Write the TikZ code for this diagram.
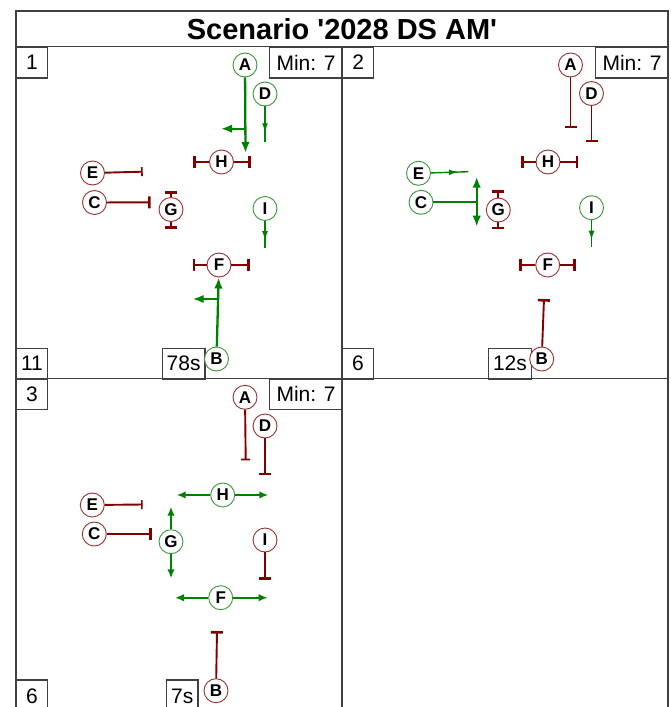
\documentclass[tikz,border=0pt]{standalone}
\usepackage{fontspec}
\setmainfont{Liberation Sans}
\usetikzlibrary{arrows.meta,decorations.markings}
\definecolor{grn}{RGB}{0,128,0}
\definecolor{grnc}{RGB}{60,150,60}
\definecolor{rd}{RGB}{128,0,0}
\definecolor{rdc}{RGB}{150,50,50}
\definecolor{frm}{RGB}{64,64,64}
\tikzset{
  gnode/.style={circle,draw=grnc,fill=white,line width=0.9pt,minimum size=24pt,inner sep=0pt,font=\fontsize{17}{17}\selectfont\bfseries},
  rnode/.style={circle,draw=rdc,fill=white,line width=0.9pt,minimum size=24pt,inner sep=0pt,font=\fontsize{17}{17}\selectfont\bfseries},
  gthick/.style={draw=grn,line width=2.3pt,-{Latex[length=11pt,width=8.5pt]}},
  gdbl/.style={draw=grn,line width=1.9pt,-{Latex[length=9pt,width=7.5pt]}},
  gthin/.style={draw=grn,line width=1.4pt,postaction={decorate},
    decoration={markings,mark=at position 0.72 with {\arrow{Latex[length=9pt,width=6pt]}}}},
  gline/.style={draw=grn,line width=2pt},
  rbar/.style={draw=rd,line width=1.9pt,-{Bar[width=12pt,line width=2.6pt]}},
  rbarthin/.style={draw=rd,line width=1.9pt,-{Bar[width=9pt,line width=1.6pt]}},
  lbox/.style={draw=frm,line width=1.2pt,anchor=north west,inner sep=0pt,font=\fontsize{21}{21}\selectfont},
  frame/.style={draw=frm,line width=1.4pt}
}
\begin{document}
\begin{tikzpicture}[x=1pt,y=-1pt]
\useasboundingbox (0,0) rectangle (671,707);
\clip (0,0) rectangle (671,707);
\fill[white] (0,0) rectangle (671,707);
% outer frame and title
\draw[frame] (16,11) rectangle (668,712);
\draw[frame] (16,46.7) -- (668,46.7);
\node[font=\fontsize{29}{29}\selectfont\bfseries] (title) at (342,29.5) {Scenario \textquotesingle 2028 DS AM\textquotesingle};
\draw[frame] (342,46.7) -- (342,712);
\draw[frame] (16,378.5) -- (668,378.5);

% ---------------- Panel 1 ----------------
\begin{scope}
\node[lbox,minimum width=30.7pt,minimum height=30.7pt] (p1num) at (16,46.7) {1};
\node[lbox,minimum width=73pt,minimum height=30.7pt] (p1min) at (269,46.7) {Min: 7};
\node[lbox,minimum width=30.7pt,minimum height=30.8pt] (p1cnt) at (16,347.7) {11};
\node[lbox,minimum width=42.6pt,minimum height=30.8pt] (p1t) at (161.7,347.7) {78s};
\node[gnode] (p1A) at (245,65) {A};
\node[gnode] (p1D) at (265,94) {D};
\node[rnode] (p1H) at (221.5,162) {H};
\node[rnode] (p1E) at (92.5,173) {E};
\node[rnode] (p1C) at (94.5,202.5) {C};
\node[rnode] (p1G) at (171,209.5) {G};
\node[gnode] (p1I) at (265,208.5) {I};
\node[rnode] (p1F) at (219,265) {F};
\node[gnode] (p1B) at (216.5,359) {B};
\coordinate (p1Aend) at (245.5,153);
\coordinate (p1Aj) at (245.3,128.7);
\coordinate (p1Al) at (221,128.7);
\draw[gthick] (p1A) -- (p1Aend);
\draw[gthick] (p1Aj) -- (p1Al);
\coordinate (p1Dend) at (265,142.3);
\draw[gthin] (p1D) -- (p1Dend);
\coordinate (p1Hl) at (193.3,162);
\coordinate (p1Hr) at (250.7,162);
\draw[rbar] (p1H) -- (p1Hl);
\draw[rbar] (p1H) -- (p1Hr);
\coordinate (p1Eend) at (142.7,171.7);
\draw[rbarthin] (p1E) -- (p1Eend);
\coordinate (p1Cend) at (150.7,202.3);
\draw[rbar] (p1C) -- (p1Cend);
\coordinate (p1Gt) at (171,191);
\coordinate (p1Gb) at (171,229);
\draw[rbar] (p1G) -- (p1Gt);
\draw[rbar] (p1G) -- (p1Gb);
\coordinate (p1Iend) at (265,247.7);
\draw[gthin] (p1I) -- (p1Iend);
\coordinate (p1Fl) at (192.7,265);
\coordinate (p1Fr) at (250,265);
\draw[rbar] (p1F) -- (p1Fl);
\draw[rbar] (p1F) -- (p1Fr);
\draw[gthick] (p1B) -- (p1F);
\coordinate (p1Bj) at (217.2,299);
\coordinate (p1Bl) at (192.7,299);
\draw[gthick] (p1Bj) -- (p1Bl);
\end{scope}

% ---------------- Panel 2 ----------------
\begin{scope}[shift={(326,0)}]
\node[lbox,minimum width=31pt,minimum height=30.7pt] (p2num) at (16,46.7) {2};
\node[lbox,minimum width=73pt,minimum height=30.7pt] (p2min) at (269,46.7) {Min: 7};
\node[lbox,minimum width=30.7pt,minimum height=30.8pt] (p2cnt) at (16,347.7) {6};
\node[lbox,minimum width=43.3pt,minimum height=30.8pt] (p2t) at (161.7,347.7) {12s};
\node[rnode] (p2A) at (244.5,65) {A};
\node[rnode] (p2D) at (265.5,93.5) {D};
\node[rnode] (p2H) at (222,162) {H};
\node[gnode] (p2E) at (92.5,173.3) {E};
\node[gnode] (p2C) at (95,202.3) {C};
\node[rnode] (p2G) at (172.3,210) {G};
\node[gnode] (p2I) at (265.5,207.7) {I};
\node[rnode] (p2F) at (221.7,265) {F};
\node[rnode] (p2B) at (215.7,359) {B};
\coordinate (p2Aend) at (244.5,128.3);
\draw[rbar] (p2A) -- (p2Aend);
\coordinate (p2Dend) at (265.5,142.3);
\draw[rbar] (p2D) -- (p2Dend);
\coordinate (p2Hl) at (195,162);
\coordinate (p2Hr) at (252.3,162);
\draw[rbar] (p2H) -- (p2Hl);
\draw[rbar] (p2H) -- (p2Hr);
\coordinate (p2Eend) at (142.3,171.7);
\draw[gthin] (p2E) -- (p2Eend);
\coordinate (p2Cend) at (150.7,202.3);
\draw[gline] (p2C) -- (p2Cend);
\coordinate (p2Vt) at (150.7,176.7);
\coordinate (p2Vb) at (150.7,226.7);
\draw[gthick,{Latex[length=11pt,width=8.5pt]}-{Latex[length=11pt,width=8.5pt]}] (p2Vt) -- (p2Vb);
\coordinate (p2Gt) at (172.3,190);
\coordinate (p2Gb) at (172.3,229.3);
\draw[rbar] (p2G) -- (p2Gt);
\draw[rbar] (p2G) -- (p2Gb);
\coordinate (p2Iend) at (265.5,247.3);
\draw[gthin] (p2I) -- (p2Iend);
\coordinate (p2Fl) at (193,265);
\coordinate (p2Fr) at (250,265);
\draw[rbar] (p2F) -- (p2Fl);
\draw[rbar] (p2F) -- (p2Fr);
\coordinate (p2Bend) at (218,299);
\draw[rbar] (p2B) -- (p2Bend);
\end{scope}

% ---------------- Panel 3 ----------------
\begin{scope}[shift={(0,332)}]
\node[lbox,minimum width=30.7pt,minimum height=30.5pt] (p3num) at (16,46.5) {3};
\node[lbox,minimum width=73pt,minimum height=30.5pt] (p3min) at (269,46.5) {Min: 7};
\node[lbox,minimum width=30.7pt,minimum height=32pt] (p3cnt) at (16,347.3) {6};
\node[lbox,minimum width=31.3pt,minimum height=32pt] (p3t) at (166,347.3) {7s};
\node[rnode] (p3A) at (245,65.3) {A};
\node[rnode] (p3D) at (265,94) {D};
\node[gnode] (p3H) at (222.7,163) {H};
\node[rnode] (p3E) at (92.3,173) {E};
\node[rnode] (p3C) at (94.3,202) {C};
\node[gnode] (p3G) at (171,209.7) {G};
\node[rnode] (p3I) at (265,208) {I};
\node[gnode] (p3F) at (220.7,265.7) {F};
\node[rnode] (p3B) at (216,358.7) {B};
\coordinate (p3Aend) at (245.7,128.3);
\draw[rbarthin] (p3A) -- (p3Aend);
\coordinate (p3Dend) at (265,143.3);
\draw[rbar] (p3D) -- (p3Dend);
\coordinate (p3Hl) at (176.7,163);
\coordinate (p3Hr) at (268.3,163);
\draw[gdbl] (p3H) -- (p3Hl);
\draw[gdbl] (p3H) -- (p3Hr);
\coordinate (p3Eend) at (142.7,172.5);
\draw[rbarthin] (p3E) -- (p3Eend);
\coordinate (p3Cend) at (151.7,202);
\draw[rbar] (p3C) -- (p3Cend);
\coordinate (p3Gt) at (171,174.7);
\coordinate (p3Gb) at (171,246.3);
\draw[gdbl] (p3G) -- (p3Gt);
\draw[gdbl] (p3G) -- (p3Gb);
\coordinate (p3Iend) at (265,248);
\draw[rbar] (p3I) -- (p3Iend);
\coordinate (p3Fl) at (175,265.7);
\coordinate (p3Fr) at (267.7,265.7);
\draw[gdbl] (p3F) -- (p3Fl);
\draw[gdbl] (p3F) -- (p3Fr);
\coordinate (p3Bend) at (217,299);
\draw[rbar] (p3B) -- (p3Bend);
\end{scope}
\end{tikzpicture}
\end{document}
